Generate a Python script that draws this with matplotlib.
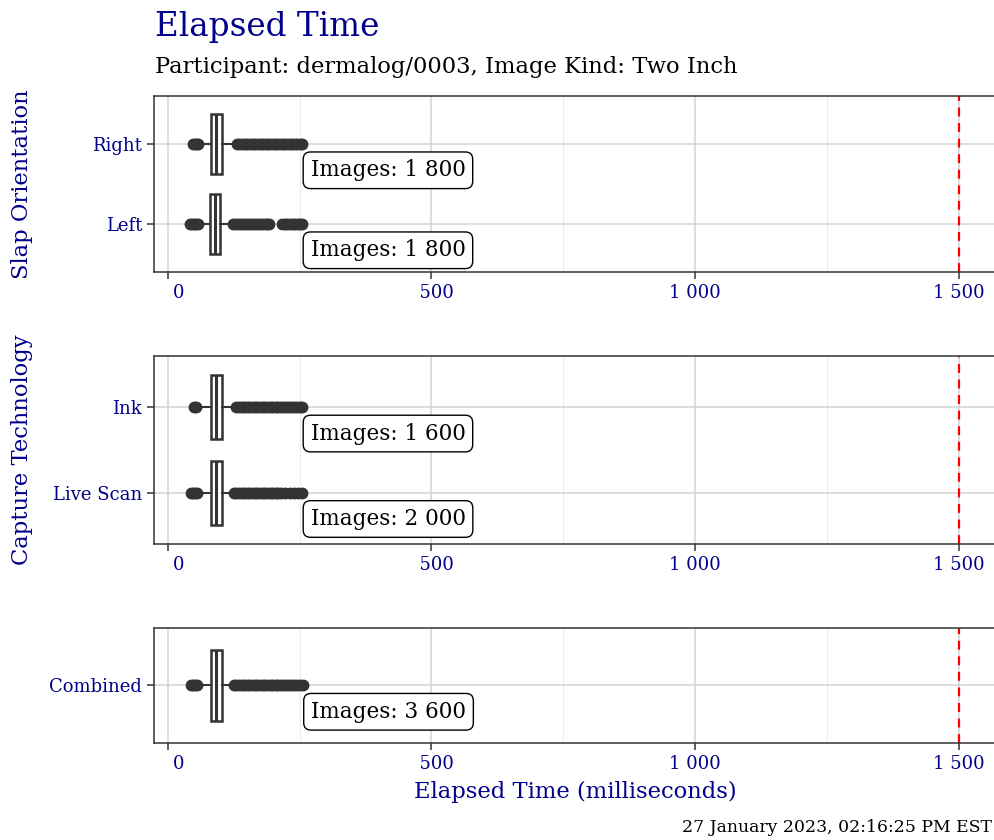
import matplotlib.pyplot as plt
from matplotlib.ticker import FuncFormatter, MultipleLocator

plt.rcParams['font.family'] = ['DejaVu Serif', 'DejaVu Sans']

BLUE = '#00008B'
DARK = '#333333'

# panel 1: slap orientation (bottom -> top)
slap_names = ['Left', 'Right']
slap_counts = [1800, 1800]
slap_q1 = [80, 82]
slap_med = [89, 92]
slap_q3 = [100, 102]
slap_lo = [60, 62]
slap_hi = [115, 120]
slap_fliers = [
    [42, 46, 50, 54, 57,
     124, 129, 134, 139, 144, 149, 154, 159, 164, 169, 174, 179, 184, 188, 192,
     217, 222, 227, 232, 237, 242, 247, 251, 255],
    [47, 51, 55, 58,
     131, 136, 141, 146, 151, 156, 161, 166, 171, 176, 181, 186, 191, 196, 201,
     206, 211, 216, 221, 226, 231, 236, 241, 246, 250, 255],
]

# panel 2: capture technology (bottom -> top)
tech_names = ['Live Scan', 'Ink']
tech_counts = [2000, 1600]
tech_q1 = [82, 82]
tech_med = [92, 92]
tech_q3 = [102, 103]
tech_lo = [60, 62]
tech_hi = [116, 120]
tech_fliers = [
    [44, 48, 52, 56,
     125, 130, 135, 140, 145, 150, 155, 160, 165, 170, 175, 180, 185, 190, 195,
     200, 205, 210, 215, 223, 231, 239, 247, 255],
    [49, 53,
     130, 135, 140, 145, 150, 155, 160, 165, 170, 175, 180, 185, 190, 195, 200,
     205, 210, 215, 220, 225, 230, 235, 240, 245, 250, 255],
]

# panel 3: combined
comb_names = ['Combined']
comb_counts = [3600]
comb_q1 = [82]
comb_med = [92]
comb_q3 = [103]
comb_lo = [60]
comb_hi = [116]
comb_fliers = [
    [44, 48, 52, 56,
     125, 130, 135, 140, 145, 150, 155, 160, 165, 170, 175, 180, 185, 190, 195,
     200, 205, 210, 215, 220, 225, 230, 235, 240, 245, 250, 256],
]

threshold = 1500
xticks = [0, 500, 1000, 1500]


def fmt_thousands(v, pos):
    s = f'{int(v):,}'.replace(',', ' ')
    # the source pads the short labels on the left
    pad = {1: 2, 3: 1}.get(len(s), 0)
    return '\u2007' * pad + s


def draw_panel(ax, names, counts, q1, med, q3, lo, hi, fliers):
    stats = []
    for i in range(len(names)):
        stats.append(dict(q1=q1[i], med=med[i], q3=q3[i], whislo=lo[i],
                          whishi=hi[i], fliers=fliers[i]))
    pos = list(range(1, len(names) + 1))
    ax.set_axisbelow(True)
    ax.xaxis.set_minor_locator(MultipleLocator(250))
    ax.grid(which='major', color='#d3d3d3', linewidth=1.1)
    ax.grid(which='minor', axis='x', color='#ececec', linewidth=0.7)
    ax.bxp(stats, positions=pos, vert=False, widths=0.75, showcaps=False,
           patch_artist=True,
           boxprops=dict(facecolor='white', edgecolor=DARK, linewidth=1.8),
           medianprops=dict(color=DARK, linewidth=2.2),
           whiskerprops=dict(color=DARK, linewidth=1.5),
           flierprops=dict(marker='o', markerfacecolor=DARK,
                           markeredgecolor=DARK, markersize=7.5))
    ax.axvline(threshold, color='red', linestyle=(0, (4, 3)), linewidth=1.6)
    for i, p in enumerate(pos):
        xmax = max(fliers[i])
        ax.annotate(f'Images: {counts[i]:,}'.replace(',', ' '),
                    xy=(xmax, p), xytext=(6, -11),
                    textcoords='offset points',
                    ha='left', va='top', fontsize=15.5,
                    bbox=dict(boxstyle='round,pad=0.34', fc='white',
                              ec='black', lw=1.0))
    ax.set_xlim(-26, 1571)
    ax.set_ylim(0.4, len(names) + 0.6)
    ax.set_yticks(pos)
    ax.set_yticklabels(names)
    ax.set_xticks(xticks)
    ax.xaxis.set_major_formatter(FuncFormatter(fmt_thousands))
    ax.tick_params(axis='both', which='major', colors=DARK, labelcolor=BLUE,
                   labelsize=13, length=5, width=1.1)
    ax.tick_params(axis='x', which='minor', length=0)
    for s in ax.spines.values():
        s.set_color(DARK)
        s.set_linewidth(1.1)


fig = plt.figure(figsize=(9.95, 8.4), dpi=100)
ax1 = fig.add_axes([0.1548, 0.6762, 0.8462, 0.2095])
ax2 = fig.add_axes([0.1548, 0.3524, 0.8462, 0.2238])
ax3 = fig.add_axes([0.1548, 0.1155, 0.8462, 0.1369])

draw_panel(ax1, slap_names, slap_counts, slap_q1, slap_med, slap_q3,
           slap_lo, slap_hi, slap_fliers)
draw_panel(ax2, tech_names, tech_counts, tech_q1, tech_med, tech_q3,
           tech_lo, tech_hi, tech_fliers)
draw_panel(ax3, comb_names, comb_counts, comb_q1, comb_med, comb_q3,
           comb_lo, comb_hi, comb_fliers)

# y titles of the first two panels
fig.text(22 / 995, 1 - 184 / 840, 'Slap Orientation', color=BLUE,
         fontsize=16.3, rotation=90, ha='center', va='center')
fig.text(22 / 995, 1 - 450 / 840, 'Capture Technology', color=BLUE,
         fontsize=16.3, rotation=90, ha='center', va='center')

fig.text(575 / 995, 1 - 792 / 840, 'Elapsed Time (milliseconds)', color=BLUE,
         fontsize=16.3, ha='center', va='center')

fig.text(0.1558, 1 - 27 / 840, 'Elapsed Time', color=BLUE, fontsize=23.5,
         ha='left', va='center')
fig.text(0.1558, 1 - 67 / 840,
         'Participant: dermalog/0003, Image Kind: Two Inch',
         color='black', fontsize=16.3, ha='left', va='center')
fig.text(0.997, 1 - 828 / 840, '27 January 2023, 02:16:25 PM EST',
         color='black', fontsize=12.4, ha='right', va='center')

fig.savefig('out.png', dpi=100)
